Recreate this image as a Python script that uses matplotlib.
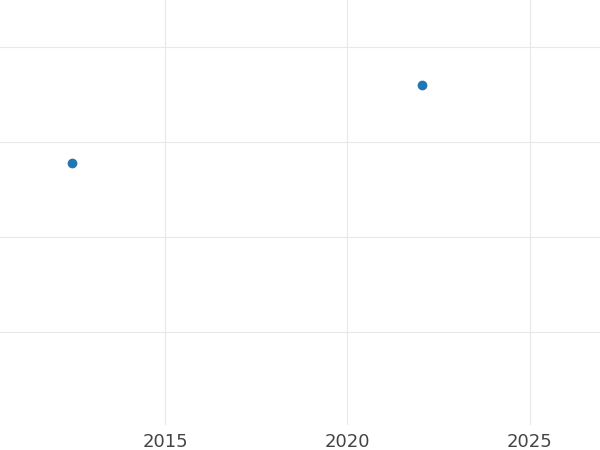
import matplotlib.pyplot as plt

years = [2012.45, 2022.05]
values = [2.78, 3.6]
x_ticks = [2015, 2020, 2025]
y_ticks = [1, 2, 3, 4]

fig = plt.figure(figsize=(6, 4.5), dpi=100)
ax = fig.add_axes([0, 450 / 450 - 425 / 450, 1, 425 / 450])
ax.scatter(years, values, s=36, color='#1f77b4', zorder=3)

ax.set_xlim(2010.48, 2026.92)
ax.set_ylim(1 - 93 / 95, 4 + 47 / 95)
ax.set_xticks(x_ticks)
ax.set_xticklabels([str(t) for t in x_ticks], fontsize=13, color='#444444')
ax.set_yticks(y_ticks)
ax.set_yticklabels([])
ax.tick_params(length=0, pad=6)
ax.grid(color='#e8e8e8', linewidth=0.8)
for s in ax.spines.values():
    s.set_visible(False)

fig.savefig('out.png', dpi=100)
